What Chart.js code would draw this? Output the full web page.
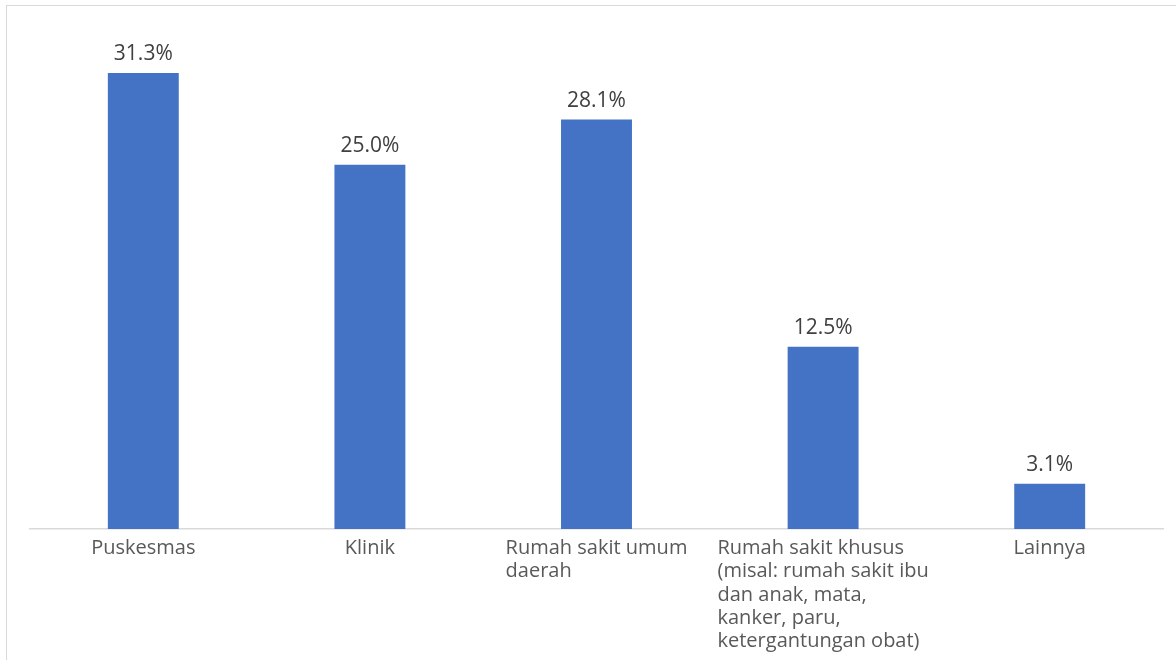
<!DOCTYPE html>
<html>
<head>
<meta charset="utf-8">
<script src="https://cdn.jsdelivr.net/npm/chart.js@4/dist/chart.umd.min.js"></script>
<style>
  html, body { margin: 0; padding: 0; background: #fff; overflow: hidden; }
  #wrap { position: relative; width: 1176px; height: 660px; }
  #frame {
    position: absolute; left: 6px; top: 5px; width: 1300px; height: 800px;
    border: 1.5px solid #d9d9d9; pointer-events: none;
  }
  canvas { position: absolute; left: 0; top: 0; }
</style>
</head>
<body>
<div id="wrap">
  <div id="frame"></div>
  <canvas id="chart" width="1176" height="660"></canvas>
</div>
<script>
// ── Data ───────────────────────────────────────────────────────────────
const categories = [
  ['Puskesmas'],
  ['Klinik'],
  ['Rumah sakit umum', 'daerah'],
  ['Rumah sakit khusus', '(misal: rumah sakit ibu', 'dan anak, mata,', 'kanker, paru,', 'ketergantungan obat)'],
  ['Lainnya']
];
const shares = [31.3, 25.0, 28.1, 12.5, 3.1];
const yMax = 35;

// ── Style ──────────────────────────────────────────────────────────────
const FONT       = '"Open Sans", "Noto Sans", sans-serif';
const BAR_COLOR  = '#4472C4';
const VALUE_CLR  = '#404040';
const LABEL_CLR  = '#595959';
const AXIS_CLR   = '#d9d9d9';

// value labels above each bar
const valueLabels = {
  id: 'valueLabels',
  afterDatasetsDraw(chart) {
    const ctx = chart.ctx;
    const meta = chart.getDatasetMeta(0);
    ctx.save();
    ctx.font = '21px ' + FONT;
    ctx.fillStyle = VALUE_CLR;
    ctx.textAlign = 'center';
    ctx.textBaseline = 'alphabetic';
    meta.data.forEach((bar, i) => {
      ctx.fillText(shares[i].toFixed(1) + '%', bar.x, bar.y - 13);
    });
    ctx.restore();
  }
};

// category labels: block centred under the bar, lines left-aligned
const categoryLabels = {
  id: 'categoryLabels',
  afterDraw(chart) {
    const ctx = chart.ctx;
    const xScale = chart.scales.x;
    const top = chart.chartArea.bottom + 25;
    ctx.save();
    ctx.font = '20px ' + FONT;
    ctx.fillStyle = LABEL_CLR;
    ctx.textAlign = 'left';
    ctx.textBaseline = 'alphabetic';
    categories.forEach((lines, i) => {
      const cx = xScale.getPixelForValue(i);
      const w = Math.max(...lines.map(l => ctx.measureText(l).width));
      const left = cx - w / 2;
      lines.forEach((line, j) => ctx.fillText(line, left, top + j * 23.3));
    });
    ctx.restore();
  }
};

// ── Chart ──────────────────────────────────────────────────────────────
new Chart(document.getElementById('chart').getContext('2d'), {
  type: 'bar',
  data: {
    labels: categories,
    datasets: [{
      data: shares,
      backgroundColor: BAR_COLOR,
      barPercentage: 0.313,
      categoryPercentage: 1
    }]
  },
  options: {
    responsive: false,
    animation: false,
    events: [],
    layout: { padding: { left: 30, right: 13, top: 19, bottom: 123 } },
    plugins: { legend: { display: false }, tooltip: { enabled: false } },
    scales: {
      x: {
        grid: { display: false },
        border: { color: AXIS_CLR, width: 1.5 },
        ticks: { display: false }
      },
      y: { display: false, min: 0, max: yMax }
    }
  },
  plugins: [valueLabels, categoryLabels]
});
</script>
</body>
</html>
